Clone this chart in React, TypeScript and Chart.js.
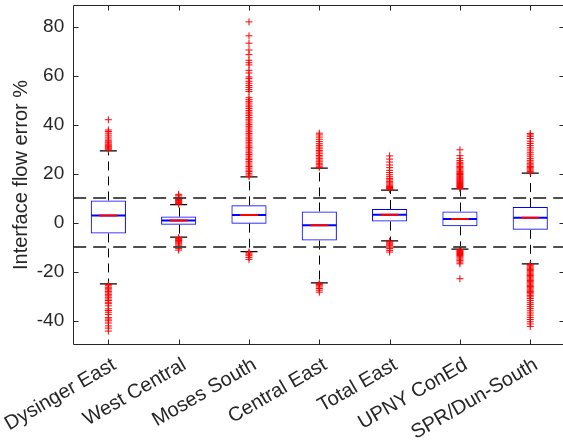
import React, { useEffect, useRef } from "react";
import { Chart, registerables } from "chart.js";

Chart.register(...registerables);

const categories = [
  "Dysinger East",
  "West Central",
  "Moses South",
  "Central East",
  "Total East",
  "UPNY ConEd",
  "SPR/Dun-South",
];

const q1 = [-4.4, -0.8, -0.4, -7.3, 0.5, -1.5, -2.9];
const q3 = [9.1, 2.5, 7.1, 4.6, 5.6, 4.6, 6.4];
const medians = [2.9, 0.9, 3.1, -1.0, 3.3, 1.5, 2.0];
const whiskerHigh = [29.4, 7.4, 18.7, 22.3, 13.3, 13.8, 20.3];
const whiskerLow = [-25.0, -5.9, -11.8, -24.6, -7.4, -10.8, -16.8];

const yTicks = [-40, -20, 0, 20, 40, 60, 80];
const refLines = [10, -10];

const outliersDysingerEast = [
  29.8, 30.2, 30.6, 31.0, 31.3, 31.7, 32.1, 32.6, 33.0, 33.5, 34.2, 35.0, 35.8, 36.6, 37.3, 37.9, 42.1,
  -25.3, -25.8, -26.4, -27.0, -27.5, -28.1, -28.7, -29.3, -29.9, -30.5, -31.2, -31.8, -32.5, -33.1, -34.0,
  -35.2, -35.9, -36.6, -37.5, -38.8, -39.4, -40.1, -41.0, -42.2, -43.1, -44.3,
];
const outliersWestCentral = [
  7.6, 7.9, 8.2, 8.5, 8.8, 9.1, 9.5, 9.9, 10.4, 11.0, 11.6,
  -6.1, -6.4, -6.7, -7.0, -7.3, -7.6, -7.9, -8.3, -8.7, -9.2, -9.8, -10.5, -11.2,
];
const outliersMosesSouth = [
  18.9, 19.5, 20.2, 20.9, 21.5, 22.3, 23.0, 23.6, 24.4, 25.1, 25.8, 26.4, 27.2, 27.9, 28.6, 29.3, 30.1,
  30.8, 31.4, 32.2, 32.9, 33.7, 34.3, 35.0, 35.8, 36.5, 37.2, 37.9, 38.7, 39.4, 40.1, 40.8, 41.6, 42.3,
  43.0, 43.8, 44.5, 45.2, 45.9, 46.7, 47.4, 48.1, 48.9, 49.6, 50.3, 51.1, 53.6, 54.4, 55.3, 56.1, 57.0,
  57.8, 58.9, 59.6, 61.2, 62.3, 64.5, 65.4, 66.4, 68.7, 70.6, 73.4, 76.4, 82.1,
  -12.0, -12.4, -12.9, -13.5, -14.2, -15.0,
];
const outliersCentralEast = [
  22.6, 23.1, 23.7, 24.3, 24.9, 25.6, 26.2, 26.9, 27.5, 28.2, 28.9, 29.5, 30.2, 30.9, 31.6, 32.3, 33.2,
  34.1, 35.0, 35.9, 36.6,
  -24.9, -25.3, -25.8, -26.3, -26.9, -27.6, -28.4,
];
const outliersTotalEast = [
  13.6, 14.0, 14.4, 14.8, 15.3, 15.8, 16.3, 16.9, 17.5, 18.1, 18.8, 19.6, 20.5, 21.4, 22.5, 23.6, 24.8,
  26.0, 27.3,
  -7.6, -7.9, -8.3, -8.7, -9.1, -9.5, -10.0, -10.6, -11.3, -12.0,
];
const outliersUpnyConEd = [
  14.0, 14.4, 14.8, 15.2, 15.6, 16.0, 16.4, 16.8, 17.2, 17.6, 18.0, 18.4, 18.8, 19.2, 19.7, 20.1, 20.6,
  21.0, 21.5, 22.0, 22.5, 23.0, 23.6, 24.1, 24.7, 25.4, 26.3, 27.4, 29.8,
  -11.0, -11.4, -11.8, -12.2, -12.6, -13.0, -13.4, -13.9, -14.4, -14.9, -15.5, -16.1, -16.8, -22.9,
];
const outliersSprDunSouth = [
  20.6, 21.0, 21.5, 22.0, 22.5, 23.0, 23.6, 24.1, 24.8, 25.5, 26.3, 27.2, 28.0, 28.8, 29.7, 30.6, 31.5,
  32.4, 33.3, 34.4, 35.3, 35.9, 36.5,
  -17.1, -17.6, -18.1, -18.6, -19.1, -19.6, -20.1, -20.6, -21.1, -21.6, -22.1, -22.6, -23.1, -23.6, -24.1,
  -24.6, -25.1, -25.6, -26.1, -26.6, -27.1, -27.6, -28.1, -28.6, -29.1, -29.7, -30.3, -31.0, -31.8, -32.7,
  -33.4, -34.3, -35.1, -36.0, -36.9, -37.8, -38.7, -39.6, -40.5, -41.4, -42.4,
];

const outlierLists = [
  outliersDysingerEast,
  outliersWestCentral,
  outliersMosesSouth,
  outliersCentralEast,
  outliersTotalEast,
  outliersUpnyConEd,
  outliersSprDunSouth,
];

const TEXT = "#262626";
const FONT = "'Liberation Sans', Arial, Helvetica, sans-serif";

export default function App() {
  const ref = useRef<HTMLCanvasElement | null>(null);

  useEffect(() => {
    const canvas = ref.current;
    if (!canvas) return;

    const boxPlugin = {
      id: "boxExtras",
      beforeDatasetsDraw(chart: any) {
        const { ctx, scales, chartArea } = chart;
        const xs = scales.x;
        const ys = scales.y;
        ctx.save();
        ctx.beginPath();
        ctx.rect(chartArea.left, chartArea.top, chartArea.right - chartArea.left, chartArea.bottom - chartArea.top);
        ctx.clip();
        ctx.strokeStyle = "#000";
        ctx.lineWidth = 1;
        ctx.setLineDash([9, 6]);
        for (let i = 0; i < categories.length; i++) {
          const x = Math.round(xs.getPixelForValue(i)) + 0.5;
          ctx.beginPath();
          ctx.moveTo(x, ys.getPixelForValue(q3[i]));
          ctx.lineTo(x, ys.getPixelForValue(whiskerHigh[i]));
          ctx.stroke();
          ctx.beginPath();
          ctx.moveTo(x, ys.getPixelForValue(q1[i]));
          ctx.lineTo(x, ys.getPixelForValue(whiskerLow[i]));
          ctx.stroke();
        }
        ctx.restore();
      },
      afterDatasetsDraw(chart: any) {
        const { ctx, scales, chartArea } = chart;
        const ys = scales.y;
        ctx.save();
        ctx.strokeStyle = "rgba(60,60,60,0.9)";
        ctx.lineWidth = 2;
        ctx.setLineDash([13, 7]);
        for (const v of refLines) {
          const y = Math.round(ys.getPixelForValue(v));
          ctx.beginPath();
          ctx.moveTo(chartArea.left, y);
          ctx.lineTo(chartArea.right, y);
          ctx.stroke();
        }
        ctx.restore();
      },
      afterDraw(chart: any) {
        const { ctx, scales, chartArea } = chart;
        const xs = scales.x;
        const ys = scales.y;
        const l = Math.round(chartArea.left) + 0.5;
        const r = Math.round(chartArea.right) - 0.5;
        const t = Math.round(chartArea.top) + 0.5;
        const b = Math.round(chartArea.bottom) - 0.5;
        ctx.save();
        ctx.strokeStyle = TEXT;
        ctx.lineWidth = 1;
        ctx.setLineDash([]);
        ctx.beginPath();
        ctx.rect(l, t, r - l, b - t);
        ctx.stroke();
        const tl = 5;
        for (const v of yTicks) {
          const y = Math.round(ys.getPixelForValue(v)) + 0.5;
          ctx.beginPath();
          ctx.moveTo(l, y);
          ctx.lineTo(l + tl, y);
          ctx.moveTo(r, y);
          ctx.lineTo(r - tl, y);
          ctx.stroke();
        }
        for (let i = 0; i < categories.length; i++) {
          const x = Math.round(xs.getPixelForValue(i)) + 0.5;
          ctx.beginPath();
          ctx.moveTo(x, b);
          ctx.lineTo(x, b - tl);
          ctx.moveTo(x, t);
          ctx.lineTo(x, t + tl);
          ctx.stroke();
        }
        ctx.restore();
      },
    };

    const outlierData: { x: string; y: number }[] = [];
    outlierLists.forEach((list, i) => {
      list.forEach((v) => outlierData.push({ x: categories[i], y: v }));
    });

    const chart = new Chart(canvas, {
      type: "bar",
      data: {
        labels: categories,
        datasets: [
          {
            type: "bar",
            data: categories.map((_, i) => [q1[i], q3[i]]) as any,
            backgroundColor: "rgba(0,0,0,0)",
            borderColor: "#0000ff",
            borderWidth: 1,
            borderSkipped: false,
            barPercentage: 0.5,
            categoryPercentage: 1,
            order: 5,
          } as any,
          {
            type: "scatter",
            data: categories.map((c, i) => ({ x: c, y: medians[i] })),
            pointStyle: "line",
            radius: 17,
            borderColor: "#0000ff",
            borderWidth: 2,
            order: 4,
          } as any,
          {
            type: "scatter",
            data: categories.map((c, i) => ({ x: c, y: medians[i] })),
            pointStyle: "line",
            radius: 9,
            borderColor: "#ff0000",
            borderWidth: 2,
            order: 3,
          } as any,
          {
            type: "scatter",
            data: categories
              .map((c, i) => ({ x: c, y: whiskerHigh[i] }))
              .concat(categories.map((c, i) => ({ x: c, y: whiskerLow[i] }))),
            pointStyle: "line",
            radius: 8.5,
            borderColor: "#000000",
            borderWidth: 1.3,
            order: 2,
          } as any,
          {
            type: "scatter",
            data: outlierData,
            pointStyle: "cross",
            radius: 3.5,
            borderColor: "#ff0000",
            borderWidth: 1,
            order: 1,
          } as any,
        ],
      },
      options: {
        animation: false,
        responsive: false,
        events: [],
        layout: { autoPadding: false, padding: { left: 0, right: 4.6, top: 5, bottom: 0 } },
        plugins: { legend: { display: false }, tooltip: { enabled: false } },
        scales: {
          x: {
            type: "category",
            offset: true,
            grid: { display: false, drawTicks: false },
            border: { display: false },
            ticks: {
              color: TEXT,
              font: { family: FONT, size: 20 },
              minRotation: 30,
              maxRotation: 30,
              padding: 8,
              labelOffset: 6,
              autoSkip: false,
            },
            afterFit(scale: any) {
              scale.height = 100;
              scale.paddingLeft = 0;
              scale.paddingRight = 0;
            },
          },
          y: {
            type: "linear",
            min: -50,
            max: 89,
            grid: { display: false, drawTicks: false },
            border: { display: false },
            ticks: {
              color: TEXT,
              font: { family: FONT, size: 19 },
              padding: 9,
            },
            afterBuildTicks(scale: any) {
              scale.ticks = yTicks.map((v) => ({ value: v }));
            },
            title: {
              display: true,
              text: "Interface flow error %",
              color: TEXT,
              font: { family: FONT, size: 20 },
              padding: { top: 9, bottom: 0 },
            },
            afterFit(scale: any) {
              scale.width = 73.2;
              scale.paddingTop = 0;
              scale.paddingBottom = 0;
            },
          },
        },
      } as any,
      plugins: [boxPlugin],
    });

    return () => chart.destroy();
  }, []);

  return (
    <div style={{ position: "absolute", left: 0, top: 0, width: 563, height: 445, overflow: "hidden", background: "#fff" }}>
      <canvas ref={ref} width={570} height={445} style={{ width: 570, height: 445, display: "block" }} />
    </div>
  );
}
